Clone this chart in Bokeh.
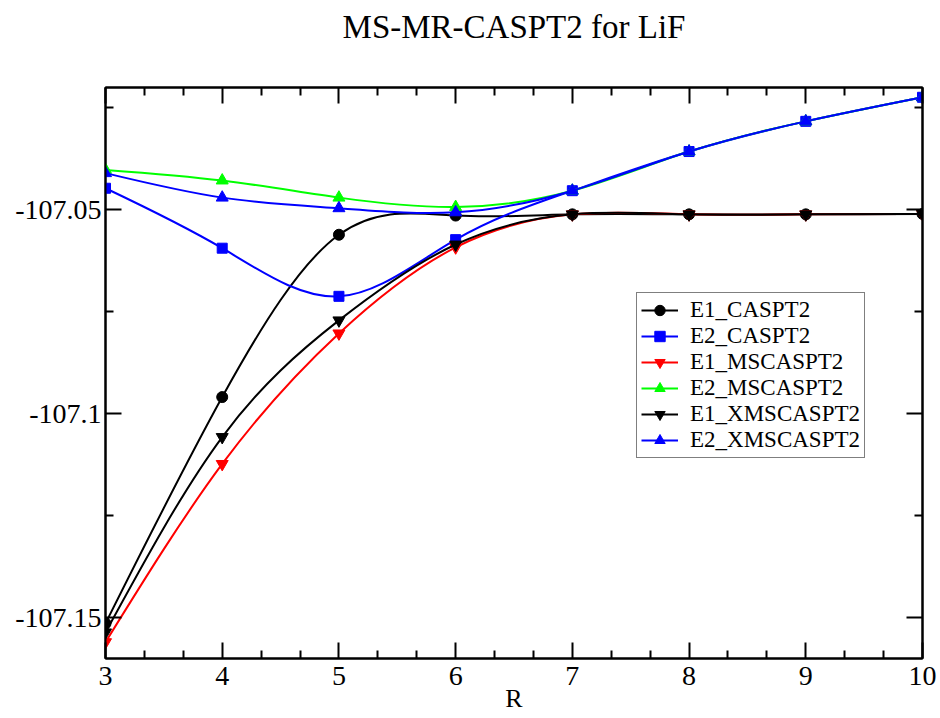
import numpy as np
from bokeh.plotting import figure
from bokeh.models import (Range1d, LinearAxis, FixedTicker, CustomJSTickFormatter,
                          Legend, LegendItem, ColumnDataSource)
from bokeh.embed import file_html
from bokeh.resources import INLINE

# ---------------- data ----------------
R = [3, 4, 5, 6, 7, 8, 9, 10]
E1_CASPT2 = [-107.1514, -107.0959, -107.0561, -107.0514, -107.0511, -107.0511, -107.0511, -107.0510]
E2_CASPT2 = [-107.0447, -107.0594, -107.0712, -107.0573, -107.0453, -107.0357, -107.0283, -107.0224]
E1_MSCASPT2 = [-107.1560, -107.1123, -107.0803, -107.0592, -107.0511, -107.0511, -107.0511, -107.0510]
E2_MSCASPT2 = [-107.0402, -107.0428, -107.0470, -107.0493, -107.0453, -107.0357, -107.0283, -107.0224]
E1_XMSCASPT2 = [-107.1536, -107.1057, -107.0771, -107.0585, -107.0511, -107.0511, -107.0511, -107.0510]
E2_XMSCASPT2 = [-107.0410, -107.0470, -107.0496, -107.0506, -107.0453, -107.0357, -107.0283, -107.0224]

series_names = ["E1_CASPT2", "E2_CASPT2", "E1_MSCASPT2", "E2_MSCASPT2", "E1_XMSCASPT2", "E2_XMSCASPT2"]
series_values = [E1_CASPT2, E2_CASPT2, E1_MSCASPT2, E2_MSCASPT2, E1_XMSCASPT2, E2_XMSCASPT2]
series_colors = ["#000000", "#0000ff", "#ff0000", "#00ff00", "#000000", "#0000ff"]
series_markers = ["circle", "square", "inverted_triangle", "triangle", "inverted_triangle", "triangle"]
series_sizes = [11, 10, 12, 12, 12, 12]

x_major_ticks = [3, 4, 5, 6, 7, 8, 9, 10]
y_major_ticks = [-107.15, -107.1, -107.05]
y_minor_ticks = [-107.175, -107.125, -107.075, -107.025]

TITLE = "MS-MR-CASPT2 for LiF"
X_LABEL = "R"
FONT = "Liberation Serif"
X_MIN, X_MAX = 3, 10
Y_MIN, Y_MAX = -107.16, -107.02


def natural_spline_bezier(xs, ys):
    xs = np.asarray(xs, float)
    ys = np.asarray(ys, float)
    n = len(xs)
    h = np.diff(xs)
    A = np.zeros((n, n))
    r = np.zeros(n)
    A[0, 0] = 1.0
    A[-1, -1] = 1.0
    for i in range(1, n - 1):
        A[i, i - 1] = h[i - 1]
        A[i, i] = 2 * (h[i - 1] + h[i])
        A[i, i + 1] = h[i]
        r[i] = 6 * ((ys[i + 1] - ys[i]) / h[i] - (ys[i] - ys[i - 1]) / h[i - 1])
    M = np.linalg.solve(A, r)
    sl = (ys[1:] - ys[:-1]) / h
    d0 = sl - h * (2 * M[:-1] + M[1:]) / 6
    d1 = sl + h * (M[:-1] + 2 * M[1:]) / 6
    return dict(x0=xs[:-1], y0=ys[:-1], x1=xs[1:], y1=ys[1:],
                cx0=xs[:-1] + h / 3, cy0=ys[:-1] + d0 * h / 3,
                cx1=xs[1:] - h / 3, cy1=ys[1:] - d1 * h / 3)


p = figure(width=938, height=718,
           x_range=Range1d(X_MIN, X_MAX), y_range=Range1d(Y_MIN, Y_MAX),
           x_axis_type=None, y_axis_type=None,
           output_backend="svg", toolbar_location=None,
           min_border_left=105, min_border_right=16, min_border_top=87, min_border_bottom=60)
p.grid.visible = False
p.outline_line_color = "#000000"
p.outline_line_width = 2
p.background_fill_color = "#ffffff"
p.border_fill_color = "#ffffff"

x_minor = []
for a in x_major_ticks[:-1]:
    x_minor += [a + 1 / 3, a + 2 / 3]
xticker = FixedTicker(ticks=x_major_ticks, minor_ticks=x_minor)
yticker = FixedTicker(ticks=y_major_ticks, minor_ticks=y_minor_ticks)
yfmt = CustomJSTickFormatter(code="return tick.toFixed(3).replace(/0+$/, '');")
blankfmt = CustomJSTickFormatter(code="return '';")


def style_axis(ax, labels):
    ax.axis_line_color = "#000000"
    ax.axis_line_width = 2
    ax.major_tick_line_color = "#000000"
    ax.major_tick_line_width = 2
    ax.minor_tick_line_color = "#000000"
    ax.minor_tick_line_width = 2
    ax.major_tick_in = 16
    ax.major_tick_out = 0
    ax.minor_tick_in = 8
    ax.minor_tick_out = 0
    if labels:
        ax.major_label_text_font = FONT
        ax.major_label_text_font_size = "28px"
        ax.major_label_text_color = "#000000"
    else:
        ax.major_label_standoff = 0


bottom = LinearAxis(ticker=xticker, axis_label=X_LABEL)
style_axis(bottom, True)
bottom.major_label_standoff = 8
bottom.axis_label_text_font = FONT
bottom.axis_label_text_font_size = "26px"
bottom.axis_label_text_font_style = "normal"
bottom.axis_label_text_color = "#000000"
bottom.axis_label_standoff = -4
p.add_layout(bottom, "below")

left = LinearAxis(ticker=yticker, formatter=yfmt)
style_axis(left, True)
left.major_label_standoff = 4
p.add_layout(left, "left")

# top axis: mirrored ticks, carries the chart title
top = LinearAxis(ticker=FixedTicker(ticks=x_major_ticks, minor_ticks=x_minor),
                 formatter=blankfmt, axis_label=TITLE)
style_axis(top, False)
top.axis_label_text_font = FONT
top.axis_label_text_font_size = "33px"
top.axis_label_text_font_style = "normal"
top.axis_label_text_color = "#000000"
top.axis_label_standoff = 43
p.add_layout(top, "above")

right = LinearAxis(ticker=FixedTicker(ticks=y_major_ticks, minor_ticks=y_minor_ticks), formatter=blankfmt)
style_axis(right, False)
p.add_layout(right, "right")

items = []
for name, vals, col, mk, sz in zip(series_names, series_values, series_colors,
                                   series_markers, series_sizes):
    src = ColumnDataSource(natural_spline_bezier(R, vals))
    p.bezier(x0="x0", y0="y0", x1="x1", y1="y1", cx0="cx0", cy0="cy0",
             cx1="cx1", cy1="cy1", source=src, line_color=col, line_width=2)
    proxy = p.line(x=[R[0]], y=[vals[0]], line_color=col, line_width=2)
    sc = p.scatter(x=R, y=vals, marker=mk, size=sz, fill_color=col, line_color=col)
    items.append(LegendItem(label=name, renderers=[proxy, sc]))

legend = Legend(items=items, location=(531, 200))
legend.label_text_font = FONT
legend.label_text_font_size = "23px"
legend.label_text_color = "#000000"
legend.glyph_width = 37
legend.glyph_height = 26
legend.label_height = 26
legend.label_standoff = 12
legend.spacing = 0
legend.padding = 4
legend.margin = 0
legend.border_line_color = "#000000"
legend.border_line_width = 1.5
legend.background_fill_alpha = 1.0
p.add_layout(legend, "center")

open("out.html", "w").write(file_html(p, INLINE))
